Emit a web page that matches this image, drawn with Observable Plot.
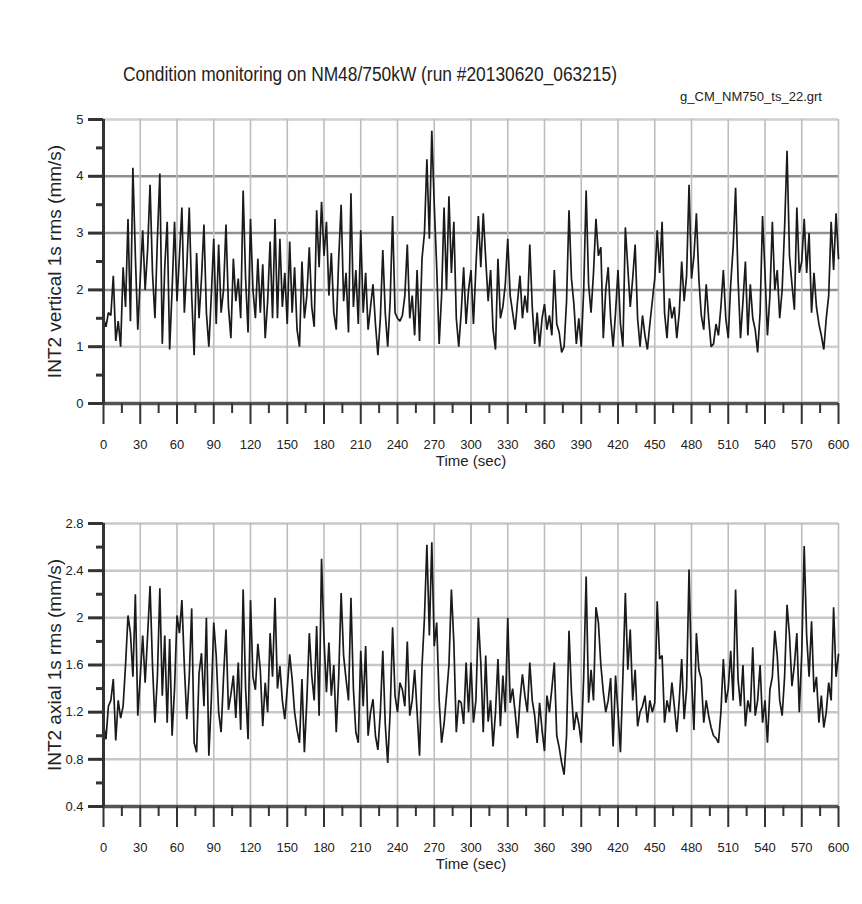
<!DOCTYPE html>
<html><head><meta charset="utf-8">
<script src="https://cdn.jsdelivr.net/npm/d3@7"></script>
<script src="https://cdn.jsdelivr.net/npm/@observablehq/plot@0.6"></script>
<style>
body{margin:0;background:#fff;width:862px;height:904px;position:relative;overflow:hidden;font-family:"Liberation Sans",Arial,sans-serif;color:#222;}
#title{position:absolute;left:123px;top:64px;font-size:20px;line-height:1;white-space:nowrap;transform-origin:0 0;}
#sub{position:absolute;left:680px;top:90px;font-size:13px;line-height:1;white-space:nowrap;transform-origin:0 0;}
#p1{position:absolute;left:0;top:100px}
#p2{position:absolute;left:0;top:500px}
</style></head><body>
<div id="title">Condition monitoring on NM48/750kW (run #20130620_063215)</div>
<div id="sub">g_CM_NM750_ts_22.grt</div>
<div id="p1"></div>
<div id="p2"></div>
<script>
// sampling interval of the transcribed series (seconds)
const sampleStep = 2;
const xMajor = [0,30,60,90,120,150,180,210,240,270,300,330,360,390,420,450,480,510,540,570,600];
const xMinor = [15,45,75,105,135,165,195,225,255,285,315,345,375,405,435,465,495,525,555,585];
const vertMajor = [0,1,2,3,4,5];
const vertMinor = [0.5,1.5,2.5,3.5,4.5];
const axialMajor = [0.4,0.8,1.2,1.6,2,2.4,2.8];
const axialMinor = [0.6,1.0,1.4,1.8,2.2,2.6];

// INT2 vertical 1s rms (mm/s), one value every 2 s from 0 to 600 s
const vertical = [
1.5,1.35,1.6,1.55,2.25,1.1,1.45,1.0,2.4,1.7,3.25,1.45,4.15,2.6,1.3,
2.2,3.05,2.0,2.7,3.85,2.3,1.5,2.9,4.05,1.05,2.4,3.2,0.95,2.0,3.2,
1.8,2.6,3.45,1.6,2.4,3.45,1.9,0.85,2.65,1.5,2.2,3.15,1.6,1.0,1.9,
2.9,1.4,2.8,1.6,2.0,3.15,1.7,1.15,2.55,1.8,2.2,1.5,3.75,2.2,1.25,
3.25,2.0,1.5,2.55,1.6,2.45,1.15,1.8,2.85,1.5,3.25,1.5,2.9,1.7,2.3,
1.4,2.85,1.6,2.4,1.3,1.0,2.5,1.5,1.9,2.75,1.7,1.35,3.4,2.4,3.55,
2.6,3.2,1.9,2.65,1.6,1.3,2.55,3.5,1.8,2.3,1.25,3.7,1.7,2.35,1.4,
3.05,1.6,2.3,1.3,1.7,2.1,1.4,0.85,1.5,2.7,1.6,1.0,1.8,3.3,1.6,
1.5,1.45,1.55,1.9,2.8,1.5,1.9,1.2,2.35,1.1,2.55,3.0,4.3,2.9,4.8,
3.5,2.4,1.05,1.9,3.45,2.0,3.65,2.3,3.2,1.5,1.0,1.6,2.4,1.4,2.0,
2.35,1.4,2.4,3.3,2.4,3.35,2.55,1.8,2.35,1.3,0.95,2.55,1.5,1.7,2.1,
2.9,1.9,1.6,1.3,1.8,2.25,1.5,1.9,1.6,2.8,1.7,1.05,1.6,1.0,1.5,
1.75,1.3,1.55,1.2,2.35,1.4,1.25,0.9,1.0,1.8,3.4,2.2,1.75,1.05,1.5,
1.0,2.0,3.75,2.1,1.6,2.3,3.25,2.6,2.75,1.15,2.0,2.4,1.5,1.0,1.6,
2.35,1.4,1.0,3.1,2.4,1.7,2.2,2.8,1.5,1.0,1.55,1.2,0.95,1.4,1.8,
2.2,3.05,2.3,3.2,1.6,1.15,1.85,1.5,1.7,1.15,1.6,2.5,1.8,2.25,3.85,
2.2,2.6,3.35,2.2,1.55,1.3,2.1,1.5,1.0,1.05,1.4,1.2,1.7,2.35,1.5,
1.15,2.1,2.75,3.8,2.2,1.15,1.8,2.5,1.2,2.1,1.5,1.3,0.9,1.6,3.3,
2.3,1.2,1.9,3.2,2.0,2.35,1.5,2.0,3.1,4.45,2.6,2.1,1.65,3.45,2.3,
2.5,3.25,2.3,3.0,1.6,2.3,1.7,1.4,1.2,0.95,1.5,1.9,3.2,2.35,3.35,2.55
];

// INT2 axial 1s rms (mm/s), one value every 2 s from 0 to 600 s
const axial = [
1.1,0.97,1.25,1.3,1.48,0.96,1.3,1.15,1.25,1.6,2.02,1.87,1.5,2.2,1.17,
1.5,1.85,1.45,1.85,2.27,1.6,1.11,1.5,2.25,1.34,1.85,1.11,1.82,1.0,1.4,
2.02,1.87,2.15,1.59,1.14,1.5,2.08,0.94,0.86,1.53,1.7,1.25,2.0,0.83,1.3,
1.96,1.68,1.2,1.03,1.5,1.9,1.22,1.35,1.51,1.15,1.62,1.05,2.24,1.4,0.97,
2.15,1.5,1.39,1.78,1.56,1.08,1.45,1.2,1.87,1.5,2.17,1.4,1.59,1.3,1.14,
1.4,1.69,1.48,1.2,1.05,0.94,1.48,0.86,1.3,1.87,1.51,1.3,1.93,1.17,2.5,
1.82,1.37,1.79,1.34,1.6,1.03,1.5,2.21,1.68,1.48,1.3,2.17,1.4,1.03,0.94,
1.72,1.25,1.76,1.0,1.2,1.31,1.0,0.88,1.2,1.72,1.1,0.77,1.2,1.92,1.34,
1.2,1.45,1.39,1.25,1.8,1.17,1.3,1.56,1.2,0.83,1.59,2.0,2.62,1.85,2.64,
1.76,1.96,1.3,0.94,1.1,1.34,1.6,2.24,1.79,1.03,1.3,1.28,1.1,1.62,1.2,
1.62,1.11,1.3,2.0,1.62,1.03,1.68,1.12,1.3,0.91,1.2,1.65,1.08,1.51,1.2,
2.0,1.28,1.4,1.2,0.98,1.3,1.52,1.34,1.2,1.62,1.3,1.17,0.94,1.28,1.05,
0.87,1.34,1.2,1.4,1.62,1.0,0.9,0.77,0.67,1.0,1.89,1.37,1.05,1.2,1.1,
0.94,1.5,2.35,1.28,1.56,1.3,2.09,1.96,1.6,1.37,1.2,1.3,1.49,0.91,1.51,
1.2,0.86,1.5,2.21,1.56,1.9,1.3,1.56,1.08,1.2,1.25,1.34,1.11,1.3,1.2,
1.28,2.14,1.65,1.68,1.11,1.3,1.2,1.45,1.25,1.03,1.3,1.65,1.14,1.4,2.41,
1.5,1.05,1.87,1.56,1.48,1.11,1.3,1.17,1.07,1.0,0.98,0.94,1.2,1.65,1.28,
1.4,1.72,1.3,2.24,1.48,1.25,1.6,1.08,1.3,1.2,1.75,1.17,1.3,1.6,1.11,
1.3,0.94,1.39,1.5,1.89,1.68,1.3,1.17,1.5,2.11,1.85,1.42,1.6,1.87,1.2,
1.7,2.61,1.85,1.5,1.97,1.37,1.5,1.11,1.34,1.07,1.2,1.45,1.3,2.09,1.5,1.69
];

const font = '"Liberation Sans", Arial, sans-serif';

function panel(values, yDomain, majorY, minorY, label, mt, mb, gridStroke) {
  const data = values.map((v, i) => ({t: i * sampleStep, v}));
  const innerMajor = majorY.filter(d => d !== yDomain[0]);
  return Plot.plot({
    width: 862, height: 380,
    marginLeft: 103, marginRight: 24, marginTop: mt, marginBottom: mb,
    x: {domain: [0, 600]},
    y: {domain: yDomain},
    style: {fontFamily: font, fontSize: "13px", color: "#222", background: "transparent", overflow: "visible"},
    marks: [
      Plot.ruleY(innerMajor, {stroke: gridStroke, strokeWidth: 2.5}),
      Plot.ruleX(xMajor.filter(d => d > 0), {stroke: "#bdbdbd", strokeWidth: 1.6}),
      Plot.line(data, {x: "t", y: "v", stroke: "#1a1a1a", strokeWidth: 1.7, strokeLinejoin: "miter"}),
      Plot.ruleY([yDomain[0]], {stroke: "#555", strokeWidth: 3.5}),
      Plot.ruleX([0], {stroke: "#333", strokeWidth: 3}),
      Plot.axisY(majorY, {tickSize: 15, strokeWidth: 3, stroke: "#333", tickPadding: 5, tickFormat: d => String(d),
        label, labelAnchor: "center", labelArrow: "none", labelOffset: 56, fontSize: 13}),
      Plot.axisY(minorY, {tickSize: 7, strokeWidth: 3, stroke: "#333", text: null, label: null}),
      Plot.axisX(xMajor, {tickSize: 21, strokeWidth: 2, stroke: "#333", tickPadding: 15,
        label: "Time (sec)", labelAnchor: "center", labelArrow: "none", labelOffset: 62}),
      Plot.axisX(xMinor, {tickSize: 10, strokeWidth: 2, stroke: "#333", text: null, label: null})
    ]
  });
}

const p1 = panel(vertical, [0, 5], vertMajor, vertMinor, "INT2 vertical 1s rms (mm/s)", 19, 77,
  d => (d === 1 || d === 5) ? "#cfcfcf" : "#8f8f8f");
const p2 = panel(axial, [0.4, 2.8], axialMajor, axialMinor, "INT2 axial 1s rms (mm/s)", 23, 74, "#c8c8c8");
document.getElementById("p1").appendChild(p1);
document.getElementById("p2").appendChild(p2);

// axis-label font sizes
for (const svg of [p1, p2]) {
  svg.querySelectorAll("text").forEach(t => {
    const s = t.textContent;
    if (s.startsWith("INT2")) t.setAttribute("font-size", "19");
    if (s === "Time (sec)") t.setAttribute("font-size", "15");
  });
}

// condensed title text: fit to measured widths in the reference
function fit(id, w) {
  const el = document.getElementById(id);
  const r = el.getBoundingClientRect().width;
  el.style.transform = `scaleX(${w / r})`;
}
fit("title", 494);
fit("sub", 142);
</script>
</body></html>
